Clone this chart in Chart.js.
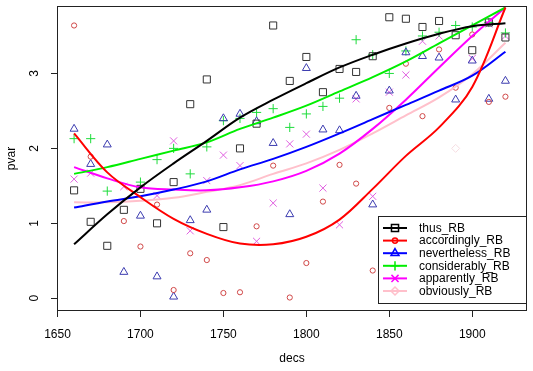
<!DOCTYPE html>
<html>
<head>
<meta charset="utf-8">
<script src="https://cdn.jsdelivr.net/npm/chart.js@4.4.1/dist/chart.umd.min.js"></script>
<style>
  body { margin: 0; background: #fff; }
  canvas { display: block; }
</style>
</head>
<body>
<canvas id="mycanvas" width="533" height="371"></canvas>
<script>
// decades on the x axis
var decs = [1660, 1670, 1680, 1690, 1700, 1710, 1720, 1730, 1740, 1750, 1760, 1770, 1780, 1790,
            1800, 1810, 1820, 1830, 1840, 1850, 1860, 1870, 1880, 1890, 1900, 1910, 1920];

// observed pvar per decade (null = no point visible)
var thusRB         = [1.44, 1.02, 0.70, 1.18, 1.46, 1.00, 1.55, 2.59, 2.92, 0.95, 2.00, 2.33, 3.64, 2.90,
                      3.22, 2.75, 3.06, 3.02, 3.23, 3.75, 3.73, 3.62, 3.70, 3.51, 3.31, 3.68, 3.48];
var accordinglyRB  = [3.64, 1.89, null, 1.03, 0.69, 1.25, 0.11, 0.60, 0.51, 0.07, 0.08, 0.96, 1.77, 0.01,
                      0.47, 1.29, 1.78, 1.53, 0.37, 2.54, 3.13, 2.43, 3.32, 2.81, 3.52, 2.62, 2.69];
var neverthelessRB = [2.26, 1.79, 2.05, 0.35, 1.10, 0.29, 0.02, 1.04, 1.18, 2.40, 2.46, 2.36, 2.07, 1.12,
                      3.07, 2.25, 2.24, 2.70, 1.25, 2.77, 3.28, 3.23, 3.21, 2.65, 3.17, 2.66, 2.90];
var considerablyRB = [2.13, 2.13, 1.43, null, 1.55, 1.85, 2.00, 1.66, 2.02, 2.37, 2.40, 2.48, 2.53, 2.28,
                      2.46, 2.56, 2.67, 3.45, 3.25, 3.00, 3.30, 3.50, 3.55, 3.64, 3.62, 3.68, 3.54];
var apparentlyRB   = [1.59, 1.67, null, 1.49, null, 1.37, 2.10, 0.90, 1.57, 1.91, 1.77, 0.76, 1.27, 2.06,
                      2.19, 1.47, 0.98, 2.66, 1.36, 2.75, 2.98, 3.43, 3.50, null, 3.20, 3.66, 3.50];
var obviouslyRB    = [null, null, null, null, null, null, null, null, null, null, null, null, null, null,
                      null, null, null, null, null, null, null, null, null, 2.00, null, null, null];

// smoothed curves
var fitYears        = [1660, 1680, 1700, 1720, 1740, 1760, 1780, 1800, 1820, 1840, 1860, 1880, 1900, 1920];
var thusFit         = [0.72, 1.12, 1.48, 1.80, 2.10, 2.41, 2.65, 2.87, 3.08, 3.25, 3.40, 3.53, 3.63, 3.67];
var accordinglyFit  = [2.20, 1.68, 1.35, 1.06, 0.86, 0.73, 0.72, 0.82, 1.05, 1.46, 1.90, 2.28, 2.82, 3.88];
var neverthelessFit = [1.21, 1.29, 1.36, 1.45, 1.56, 1.72, 1.86, 2.02, 2.20, 2.39, 2.58, 2.77, 2.97, 3.29];
var considerablyFit = [1.66, 1.75, 1.86, 1.97, 2.08, 2.26, 2.41, 2.57, 2.76, 2.95, 3.16, 3.40, 3.64, 3.88];
var apparentlyFit   = [1.75, 1.60, 1.48, 1.45, 1.44, 1.48, 1.56, 1.70, 1.93, 2.26, 2.65, 3.08, 3.50, 3.88];
var obviouslyFit    = [1.28, 1.28, 1.30, 1.34, 1.42, 1.51, 1.66, 1.80, 1.98, 2.20, 2.44, 2.68, 2.99, 3.41];

var xTicks = [1650, 1700, 1750, 1800, 1850, 1900];
var yTicks = [0, 1, 2, 3];

var series = [
    { name: 'thus_RB',         pts: thusRB,         fit: thusFit,         line: '#000000', dot: '#333333', style: 'rect',     r: 5 },
    { name: 'accordingly_RB',  pts: accordinglyRB,  fit: accordinglyFit,  line: '#ff0000', dot: '#d04848', style: 'circle',   r: 2.6 },
    { name: 'nevertheless_RB', pts: neverthelessRB, fit: neverthelessFit, line: '#0000ff', dot: '#3c3cb0', style: 'triangle', r: 4.6 },
    { name: 'considerably_RB', pts: considerablyRB, fit: considerablyFit, line: '#00ee00', dot: '#1edc3c', style: 'cross',    r: 4.6 },
    { name: 'apparently_RB',   pts: apparentlyRB,   fit: apparentlyFit,   line: '#ff00ff', dot: '#e060e0', style: 'crossRot', r: 5 },
    { name: 'obviously_RB',    pts: obviouslyRB,    fit: obviouslyFit,    line: '#ffc0cb', dot: '#f6dde2', style: 'rectRot',  r: 4 }
];

var FONT = "'Liberation Sans', Arial, Helvetica, sans-serif";

var datasets = [];
series.forEach(function (s) {
    var pts = [];
    for (var i = 0; i < decs.length; i++) {
        if (s.pts[i] !== null) pts.push({ x: decs[i], y: s.pts[i] });
    }
    datasets.push({
        type: 'scatter',
        label: s.name,
        data: pts,
        order: 2,
        pointStyle: s.style,
        pointRadius: s.r,
        pointHoverRadius: s.r,
        borderColor: s.dot,
        backgroundColor: 'rgba(0,0,0,0)',
        pointBorderWidth: 1,
        showLine: false
    });
});
series.forEach(function (s) {
    var pts = [];
    for (var i = 0; i < fitYears.length; i++) pts.push({ x: fitYears[i], y: s.fit[i] });
    datasets.push({
        type: 'line',
        label: s.name + ' fit',
        data: pts,
        order: 1,
        borderColor: s.line,
        borderWidth: 2,
        pointRadius: 0,
        fill: false,
        tension: 0.35
    });
});

var rStyle = {
    id: 'rStyle',
    afterDraw: function (chart) {
        var ctx = chart.ctx;
        var a = chart.chartArea;
        var ys = chart.scales.y;
        ctx.save();

        // plot box
        ctx.strokeStyle = '#222';
        ctx.lineWidth = 1;
        ctx.strokeRect(Math.round(a.left) + 0.5, Math.round(a.top) + 0.5,
                       Math.round(a.right - a.left) - 1, Math.round(a.bottom - a.top) - 1);

        // y tick labels, rotated like R
        ctx.fillStyle = '#000';
        ctx.font = '12px ' + FONT;
        ctx.textAlign = 'center';
        ctx.textBaseline = 'middle';
        yTicks.forEach(function (v) {
            ctx.save();
            ctx.translate(35, ys.getPixelForValue(v));
            ctx.rotate(-Math.PI / 2);
            ctx.fillText(String(v), 0, 0);
            ctx.restore();
        });

        // axis titles
        ctx.fillText('decs', (a.left + a.right) / 2, 359);
        ctx.save();
        ctx.translate(12, (a.top + a.bottom) / 2);
        ctx.rotate(-Math.PI / 2);
        ctx.fillText('pvar', 0, 0);
        ctx.restore();

        // legend
        var lx = 378, ly = 216, lw = 148, lh = 87;
        ctx.fillStyle = '#fff';
        ctx.fillRect(lx, ly, lw, lh);
        ctx.strokeStyle = '#222';
        ctx.lineWidth = 1;
        ctx.strokeRect(lx + 0.5, ly + 0.5, lw, lh);
        series.forEach(function (s, i) {
            var y = 228 + i * 12.6;
            ctx.strokeStyle = s.line;
            ctx.lineWidth = 2;
            ctx.beginPath();
            ctx.moveTo(383, y);
            ctx.lineTo(407, y);
            ctx.stroke();
            ctx.lineWidth = 1.5;
            ctx.fillStyle = 'rgba(0,0,0,0)';
            Chart.helpers.drawPoint(ctx, { pointStyle: s.style, radius: s.r, rotation: 0, borderWidth: 1.5 }, 395, y);
            ctx.fillStyle = '#000';
            ctx.textAlign = 'left';
            ctx.fillText(s.name, 419, y + 0.5);
        });
        ctx.restore();
    }
};

var myChart = new Chart(document.getElementById('mycanvas'), {
    data: { datasets: datasets },
    options: {
        responsive: false,
        animation: false,
        layout: { padding: { top: 3, right: 3, left: 0, bottom: 0 } },
        plugins: { legend: { display: false }, tooltip: { enabled: false } },
        scales: {
            x: {
                type: 'linear',
                min: 1649.7,
                max: 1933,
                afterBuildTicks: function (s) { s.ticks = xTicks.map(function (v) { return { value: v }; }); },
                afterFit: function (s) { s.height = 60; },
                grid: { drawOnChartArea: false, drawTicks: true, tickLength: 6, color: '#222' },
                border: { display: false },
                ticks: {
                    color: '#000',
                    font: { family: FONT, size: 12 },
                    padding: 10,
                    maxRotation: 0,
                    autoSkip: false,
                    callback: function (v) { return String(v); }
                }
            },
            y: {
                type: 'linear',
                min: -0.17,
                max: 3.9,
                afterBuildTicks: function (s) { s.ticks = yTicks.map(function (v) { return { value: v }; }); },
                afterFit: function (s) { s.width = 57; },
                grid: { drawOnChartArea: false, drawTicks: true, tickLength: 6, color: '#222' },
                border: { display: false },
                ticks: { display: false }
            }
        }
    },
    plugins: [rStyle]
});
</script>
</body>
</html>
